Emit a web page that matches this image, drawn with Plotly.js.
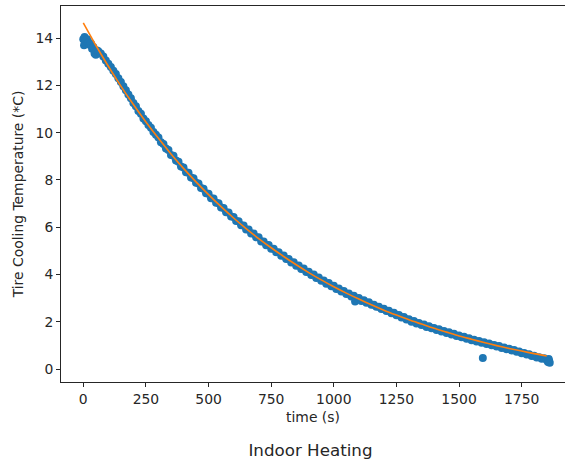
<!DOCTYPE html>
<html>
<head>
<meta charset="utf-8">
<script src="https://cdn.plot.ly/plotly-3.0.1.min.js"></script>
<style>
  html, body { margin: 0; padding: 0; background: #ffffff; }
  #chart { width: 565px; height: 466px; }
</style>
</head>
<body>
<div id="chart"></div>
<script>
// Measured tire temperature during indoor cooling (seconds, deg C)
const timeS = [
  0, 3, 5, 8, 10, 15, 20, 25, 30, 35, 40, 45, 50, 55, 60, 70, 80, 90,
  100, 110, 120, 130, 140, 150, 160, 170, 180, 190,
  200, 210, 220, 230, 240, 250, 260, 270, 280, 290,
  300, 310, 320, 330, 340, 350, 360, 370, 380, 390,
  400, 410, 420, 430, 440, 450, 460, 470, 480, 490,
  500, 510, 520, 530, 540, 550, 560, 570, 580, 590,
  600, 610, 620, 630, 640, 650, 660, 670, 680, 690,
  700, 710, 720, 730, 740, 750, 760, 770, 780, 790,
  800, 810, 820, 830, 840, 850, 860, 870, 880, 890,
  900, 910, 920, 930, 940, 950, 960, 970, 980, 990,
  1000, 1010, 1020, 1030, 1040, 1050, 1060, 1070, 1080, 1085, 1090,
  1100, 1110, 1120, 1130, 1140, 1150, 1160, 1170, 1180, 1190,
  1200, 1210, 1220, 1230, 1240, 1250, 1260, 1270, 1280, 1290,
  1300, 1310, 1320, 1330, 1340, 1350, 1360, 1370, 1380, 1390,
  1400, 1410, 1420, 1430, 1440, 1450, 1460, 1470, 1480, 1490,
  1500, 1510, 1520, 1530, 1540, 1550, 1560, 1570, 1580, 1590, 1595,
  1600, 1610, 1620, 1630, 1640, 1650, 1660, 1670, 1680, 1690,
  1700, 1710, 1720, 1730, 1740, 1750, 1760, 1770, 1780, 1790,
  1800, 1810, 1820, 1830, 1840, 1850, 1855, 1858, 1860, 1862
];
const tempC = [
  13.95, 13.70, 14.05, 13.80, 13.90, 13.95, 13.80, 13.72, 13.78, 13.55, 13.62, 13.35, 13.30, 13.48, 13.45, 13.35, 13.22, 13.05,
  12.92, 12.78, 12.62, 12.48, 12.30, 12.14, 11.96, 11.80, 11.62, 11.46,
  11.26, 11.12, 10.92, 10.80, 10.60, 10.48, 10.32, 10.21, 10.03, 9.91,
  9.80, 9.60, 9.52, 9.33, 9.27, 9.06, 9.02, 8.82, 8.77, 8.57,
  8.53, 8.33, 8.30, 8.10, 8.07, 7.88, 7.85, 7.66, 7.63, 7.44,
  7.42, 7.23, 7.21, 7.03, 7.01, 6.83, 6.81, 6.63, 6.62, 6.45,
  6.43, 6.26, 6.25, 6.08, 6.07, 5.90, 5.90, 5.73, 5.73, 5.57,
  5.57, 5.40, 5.40, 5.24, 5.25, 5.09, 5.09, 4.94, 4.94, 4.79,
  4.80, 4.65, 4.65, 4.51, 4.52, 4.37, 4.38, 4.23, 4.25, 4.10,
  4.12, 3.98, 4.00, 3.85, 3.87, 3.73, 3.75, 3.61, 3.64, 3.50,
  3.52, 3.39, 3.41, 3.28, 3.30, 3.17, 3.20, 3.07, 3.10, 2.86, 2.97,
  3.00, 2.88, 2.91, 2.80, 2.82, 2.72, 2.72, 2.63, 2.63, 2.54,
  2.55, 2.45, 2.47, 2.36, 2.38, 2.27, 2.29, 2.18, 2.20, 2.09,
  2.11, 2.00, 2.03, 1.93, 1.95, 1.86, 1.88, 1.78, 1.81, 1.72,
  1.74, 1.65, 1.68, 1.59, 1.61, 1.52, 1.55, 1.46, 1.49, 1.40,
  1.42, 1.34, 1.36, 1.28, 1.30, 1.22, 1.24, 1.16, 1.18, 1.11, 0.47,
  1.13, 1.06, 1.08, 1.00, 1.02, 0.95, 0.97, 0.89, 0.91, 0.84,
  0.86, 0.78, 0.80, 0.73, 0.74, 0.67, 0.68, 0.61, 0.62, 0.55,
  0.56, 0.49, 0.50, 0.43, 0.45, 0.38, 0.30, 0.42, 0.34, 0.26
];

// Fitted exponential cooling curve
const fitTimeS = [
  0, 50, 100, 150, 200, 250, 300, 350, 400, 450,
  500, 550, 600, 650, 700, 750, 800, 850, 900, 950,
  1000, 1050, 1100, 1150, 1200, 1250, 1300, 1350, 1400, 1450,
  1500, 1550, 1600, 1650, 1700, 1750, 1800, 1850
];
const fitTempC = [
  14.65, 13.70, 12.81, 11.97, 11.19, 10.45, 9.76, 9.10, 8.49, 7.92,
  7.38, 6.87, 6.39, 5.94, 5.52, 5.13, 4.76, 4.41, 4.08, 3.77,
  3.48, 3.21, 2.96, 2.72, 2.49, 2.28, 2.08, 1.90, 1.72, 1.56,
  1.40, 1.26, 1.12, 0.99, 0.87, 0.76, 0.65, 0.55
];

const xTicks = [0, 250, 500, 750, 1000, 1250, 1500, 1750];
const yTicks = [0, 2, 4, 6, 8, 10, 12, 14];

const ink = '#262626';
const font = { family: 'DejaVu Sans, sans-serif', size: 13.9, color: ink };

const traces = [
  {
    type: 'scatter', mode: 'markers',
    x: timeS, y: tempC,
    marker: { color: '#1f77b4', size: 8, line: { width: 0 } },
    showlegend: false, hoverinfo: 'skip'
  },
  {
    type: 'scatter', mode: 'lines',
    x: fitTimeS, y: fitTempC,
    line: { color: '#ff7f0e', width: 1.6, shape: 'spline', smoothing: 0.6 },
    showlegend: false, hoverinfo: 'skip'
  }
];

const axisCommon = {
  showgrid: false, zeroline: false,
  showline: true, linecolor: ink, linewidth: 1,
  ticks: 'outside', ticklen: 4, tickwidth: 1, tickcolor: ink,
  tickfont: font, automargin: false
};

const layout = {
  width: 565, height: 466,
  margin: { l: 61, r: 0, t: 6, b: 84 },
  paper_bgcolor: '#ffffff', plot_bgcolor: '#ffffff',
  font: font,
  showlegend: false,
  title: {
    text: 'Indoor Heating',
    font: { family: 'DejaVu Sans, sans-serif', size: 16.7, color: ink },
    xref: 'paper', x: 0.495, xanchor: 'center',
    yref: 'container', y: 0.033, yanchor: 'middle'
  },
  xaxis: Object.assign({}, axisCommon, {
    range: [-89, 1923],
    tickmode: 'array', tickvals: xTicks, ticktext: xTicks.map(String),
    mirror: true,
    title: { text: 'time (s)', font: font, standoff: 6 }
  }),
  yaxis: Object.assign({}, axisCommon, {
    range: [-0.55, 15.36],
    tickmode: 'array', tickvals: yTicks, ticktext: yTicks.map(String),
    title: { text: 'Tire Cooling Temperature (*C)', font: font, standoff: 8 }
  })
};

Plotly.newPlot('chart', traces, layout, { staticPlot: true, displayModeBar: false });
</script>
</body>
</html>
